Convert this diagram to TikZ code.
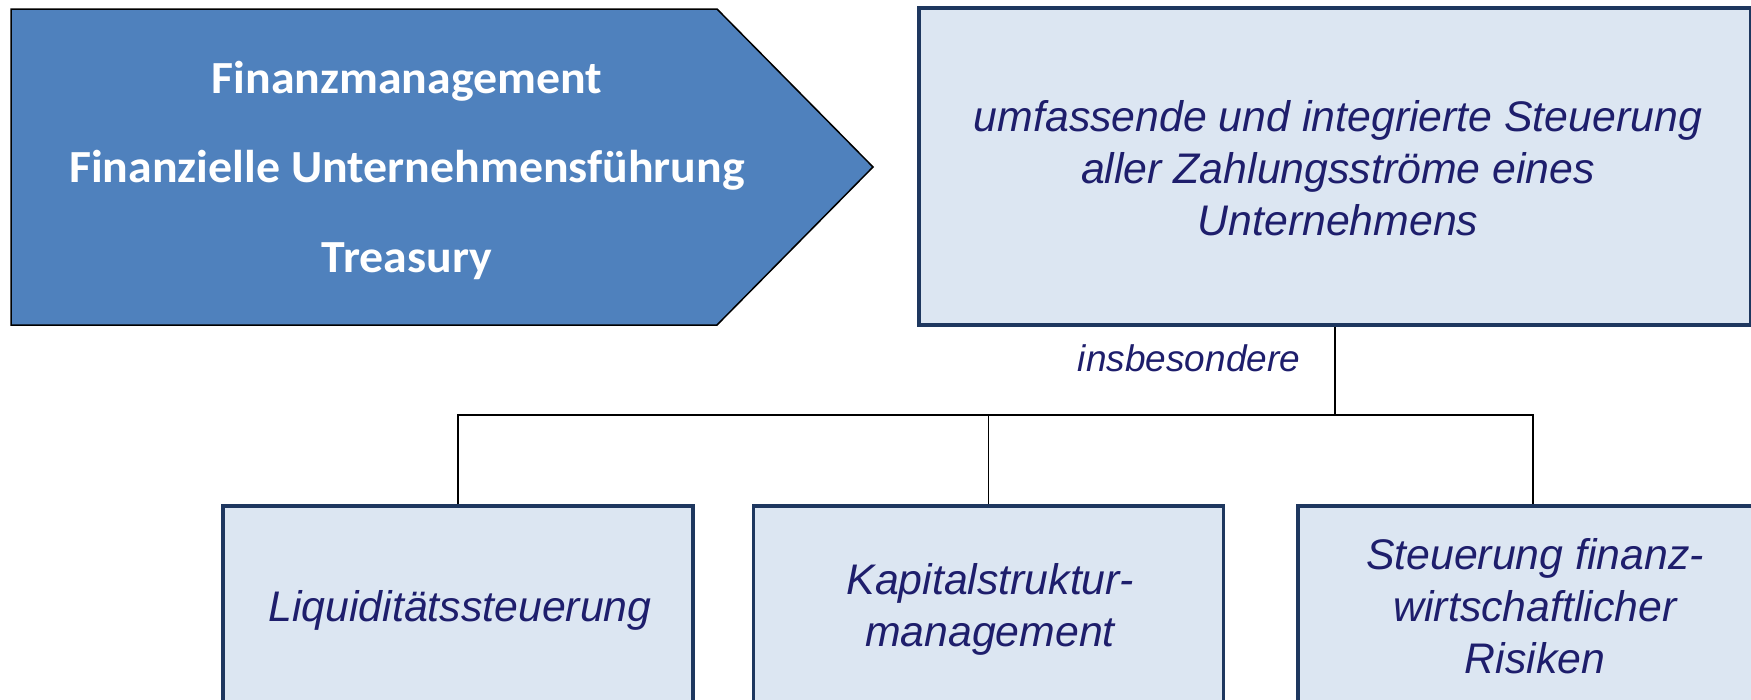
\documentclass[tikz,border=0pt]{standalone}
\usepackage{fontspec}
\newfontfamily\arialf{Liberation Sans}
\newfontfamily\calf[FakeStretch=1.04]{Carlito}
\definecolor{arrowblue}{RGB}{79,129,189}
\definecolor{boxfill}{RGB}{220,230,242}
\definecolor{boxline}{RGB}{30,55,95}
\definecolor{txtblue}{RGB}{30,30,108}
\newcommand{\mlines}[1]{\begin{tabular}[t]{@{}c@{}}#1\end{tabular}}
\begin{document}
\begin{tikzpicture}[x=1pt,y=-1pt,
  box/.style={draw=boxline, line width=3.5pt, fill=boxfill, rectangle, inner sep=0pt},
  btxt/.style={font={\arialf\itshape\fontsize{42.8}{52}\selectfont}, text=txtblue, inner sep=0pt, anchor=base},
  ltxt/.style={font={\calf\bfseries\fontsize{46}{89.5}\selectfont}, text=white, inner sep=0pt, anchor=base},
  conn/.style={draw=black, line width=1.8pt},
  arrowbody/.style={draw=black, line width=1.5pt, fill=arrowblue, line join=miter}]
\clip (0,0) rectangle (1751,699);
\fill[white] (0,0) rectangle (1751,699);
% arrow shape
\coordinate (a1) at (11,9);
\coordinate (a2) at (717,9);
\coordinate (a3) at (873,167);
\coordinate (a4) at (717,325);
\coordinate (a5) at (11,325);
\draw[arrowbody] (a1) -- (a2) -- (a3) -- (a4) -- (a5) -- cycle;
\node[ltxt] (lefttxt) at (407,93) {\mlines{Finanzmanagement\\Finanzielle Unternehmensführung\\Treasury}};
% top box
\node[box, minimum width=832pt, minimum height=317pt] (top) at (1335,166.5) {};
\node[btxt] (toptxt) at (1338,131) {\mlines{umfassende und integrierte Steuerung\\aller Zahlungsströme eines\\Unternehmens}};
% bottom boxes
\node[box, minimum width=470pt, minimum height=228pt] (b1) at (458,620) {};
\node[box, minimum width=470pt, minimum height=228pt] (b2) at (988.5,620) {};
\node[box, minimum width=470pt, minimum height=228pt] (b3) at (1533,620) {};
\node[btxt] (t1) at (460,621) {\mlines{Liquiditätssteuerung}};
\node[btxt] (t2) at (990,594) {\mlines{Kapitalstruktur-\\management}};
\node[btxt] (t3) at (1535,569) {\mlines{Steuerung finanz-\\wirtschaftlicher\\Risiken}};
% connectors
\coordinate (bar) at (0,415);
\draw[conn] (top.south) -- (top.south |- bar);
\draw[conn] (b1.north) |- (b3.north |- bar) -- (b3.north);
\draw[conn] (b2.north) -- (b2.north |- bar);
\node[font={\arialf\itshape\fontsize{37}{44}\selectfont}, text=txtblue, inner sep=0pt, anchor=base] (insb) at (1189,371) {insbesondere};
\end{tikzpicture}
\end{document}
